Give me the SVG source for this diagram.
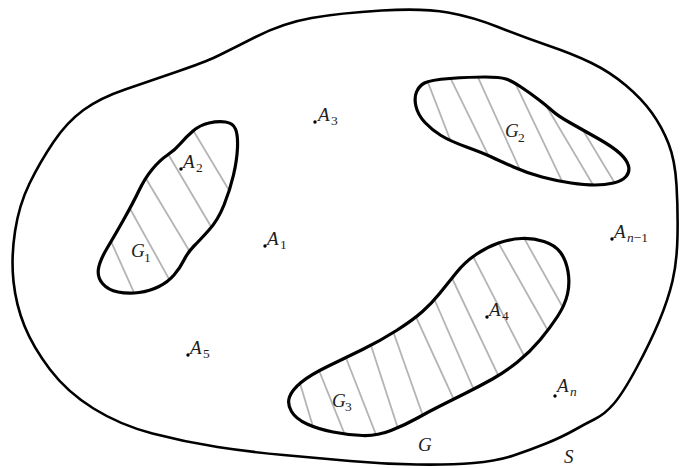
<svg xmlns="http://www.w3.org/2000/svg" xmlns:xlink="http://www.w3.org/1999/xlink" width="680" height="468" viewBox="0 0 680 468">
<style>
.bg{fill:#ffffff}
.outer{fill:none;stroke:#000;stroke-width:2.6;stroke-linejoin:round}
.blob{fill:none;stroke:#000;stroke-width:3.2;stroke-linejoin:round}
.hatch{stroke:#b4b4b4;stroke-width:1.8;fill:none}
.dot{fill:#000}
.lbl{font-family:"Liberation Serif","DejaVu Serif",serif;font-style:italic;font-size:19px;fill:#1e1e1e}
.sub{font-size:13.5px}
.up{font-style:normal}
</style>
<defs>
<path id="g1shape" d="M193,131 Q200,125 209,123 Q218,121 225.5,122 Q233,123 235.5,129 Q238,135 237.5,147.5 Q237,160 233.5,175 Q230,190 224,205 Q218,220 209,230 Q200,240 194,246 Q188,252 184,260 Q180,268 174,275 Q168,282 159,286.5 Q150,291 139,292.5 Q128,294 118,292 Q108,290 102.5,283.5 Q97,277 98.5,268.5 Q100,260 107.5,247.5 Q115,235 124,219 Q133,203 139,190.5 Q145,178 152.5,169 Q160,160 167.5,155 Q175,150 180.5,143.5 Q186,137 193,131 Z"/>
<path id="g2shape" d="M424.5,83 Q430,80 450,78.5 Q470,77 485,77 Q500,77 506,79 Q512,81 521,87 Q530,93 538.5,99.5 Q547,106 552.5,111 Q558,116 570.5,123 Q583,130 598,138.5 Q613,147 620,153.5 Q627,160 628.5,166 Q630,172 626,176.5 Q622,181 613.5,183 Q605,185 595,185 Q585,185 571,183 Q557,181 542,177 Q527,173 513.5,167 Q500,161 491.5,157 Q483,153 466.5,147 Q450,141 441,135.5 Q432,130 425,122.5 Q418,115 416,106.5 Q414,98 416.5,92 Q419,86 424.5,83 Z"/>
<path id="g3shape" d="M476,254.5 Q487,247 498.5,243 Q510,239 521.5,238.5 Q533,238 544,241.5 Q555,245 560.5,252.5 Q566,260 568,271.5 Q570,283 567.5,294 Q565,305 557.5,316.5 Q550,328 540,340 Q530,352 517.5,362 Q505,372 492.5,379 Q480,386 465,393.5 Q450,401 440,406 Q430,411 417.5,418 Q405,425 391,430.5 Q377,436 362.5,435.5 Q348,435 333,432 Q318,429 307,424 Q296,419 291.5,411.5 Q287,404 289.5,397 Q292,390 301,382.5 Q310,375 327.5,366.5 Q345,358 362.5,349.5 Q380,341 396.5,330.5 Q413,320 422.5,311.5 Q432,303 440,293 Q448,283 456.5,272.5 Q465,262 476,254.5 Z"/>
<clipPath id="c1"><use xlink:href="#g1shape"/></clipPath>
<clipPath id="c2"><use xlink:href="#g2shape"/></clipPath>
<clipPath id="c3"><use xlink:href="#g3shape"/></clipPath>
</defs>
<rect class="bg" x="0" y="0" width="680" height="468"/>

<g id="S">
<path class="outer" d="M216.5,56.5 Q228,51 255.5,37 Q283,23 311.5,18 Q340,13 381.5,10.5 Q423,8 448,12.5 Q473,17 498,27 Q523,37 548,45.5 Q573,54 591.5,63 Q610,72 626,85.5 Q642,99 652,113 Q662,127 668.5,143.5 Q675,160 676.5,185 Q678,210 677.5,236 Q677,262 672.5,281 Q668,300 659,321.5 Q650,343 636.5,368 Q623,393 614,403.5 Q605,414 595,419 Q585,424 573.5,430.5 Q562,437 546,443.5 Q530,450 513.5,455.5 Q497,461 473.5,463 Q450,465 416.5,464.5 Q383,464 350,461 Q317,458 283.5,455 Q250,452 217.5,447 Q185,442 152.5,433.5 Q120,425 93.5,408.5 Q67,392 50,369.5 Q33,347 24.5,326 Q16,305 13.5,281.5 Q11,258 15,231.5 Q19,205 29.5,183.5 Q40,162 53.5,142 Q67,122 83.5,110 Q100,98 125,89.5 Q150,81 177.5,71.5 Q205,62 216.5,56.5 Z"/>
<text class="lbl" x="564" y="463">S</text>
<text class="lbl" x="418" y="451">G</text>
</g>

<g id="G1">
<g clip-path="url(#c1)" class="hatch">
<line x1="181" y1="110" x2="239" y2="207"/>
<line x1="158" y1="137" x2="219" y2="240"/>
<line x1="133" y1="157" x2="199" y2="267"/>
<line x1="118" y1="187" x2="179" y2="297"/>
<line x1="100" y1="217" x2="145" y2="317"/>
</g>
<use xlink:href="#g1shape" class="blob"/>
<text class="lbl" x="131" y="257">G<tspan class="sub up" x="144" y="262">1</tspan></text>
</g>

<g id="G2">
<g clip-path="url(#c2)" class="hatch">
<line x1="422" y1="67" x2="458" y2="160"/>
<line x1="443" y1="63" x2="497" y2="173"/>
<line x1="471" y1="62" x2="526" y2="183"/>
<line x1="508" y1="68" x2="572" y2="202"/>
<line x1="538" y1="92" x2="605" y2="205"/>
<line x1="575" y1="117" x2="625" y2="200"/>
</g>
<use xlink:href="#g2shape" class="blob"/>
<text class="lbl" x="505" y="137">G<tspan class="sub up" x="518" y="142">2</tspan></text>
</g>

<g id="G3">
<g clip-path="url(#c3)" class="hatch">
<line x1="296" y1="370" x2="320" y2="450"/>
<line x1="312" y1="353" x2="351" y2="450"/>
<line x1="339" y1="340" x2="382" y2="450"/>
<line x1="364" y1="324" x2="405" y2="450"/>
<line x1="387" y1="314" x2="435" y2="450"/>
<line x1="405" y1="293" x2="477" y2="450"/>
<line x1="425" y1="278" x2="498" y2="445"/>
<line x1="441" y1="255" x2="510" y2="400"/>
<line x1="462" y1="235" x2="535" y2="377"/>
<line x1="490" y1="228" x2="560" y2="352"/>
<line x1="515" y1="222" x2="580" y2="338"/>
</g>
<use xlink:href="#g3shape" class="blob"/>
<text class="lbl" x="332" y="407">G<tspan class="sub up" x="345" y="411">3</tspan></text>
</g>

<g id="A1"><circle class="dot" cx="265" cy="246" r="1.7"/><text class="lbl" x="267" y="245">A<tspan class="sub up" x="280" y="249">1</tspan></text></g>
<g id="A2"><circle class="dot" cx="181" cy="169" r="1.7"/><text class="lbl" x="183" y="168">A<tspan class="sub up" x="196" y="172">2</tspan></text></g>
<g id="A3"><circle class="dot" cx="315" cy="122" r="1.7"/><text class="lbl" x="318" y="121">A<tspan class="sub up" x="331" y="125">3</tspan></text></g>
<g id="A4"><circle class="dot" cx="487" cy="317" r="1.7"/><text class="lbl" x="489" y="316">A<tspan class="sub up" x="502" y="320">4</tspan></text></g>
<g id="A5"><circle class="dot" cx="188" cy="355" r="1.7"/><text class="lbl" x="190" y="354">A<tspan class="sub up" x="203" y="358">5</tspan></text></g>
<g id="An-1"><circle class="dot" cx="612" cy="239" r="1.7"/><text class="lbl" x="614" y="238">A<tspan class="sub" x="627" y="242">n</tspan><tspan class="sub up">−1</tspan></text></g>
<g id="An"><circle class="dot" cx="555" cy="396" r="1.7"/><text class="lbl" x="557" y="392">A<tspan class="sub" x="570" y="396">n</tspan></text></g>
</svg>
